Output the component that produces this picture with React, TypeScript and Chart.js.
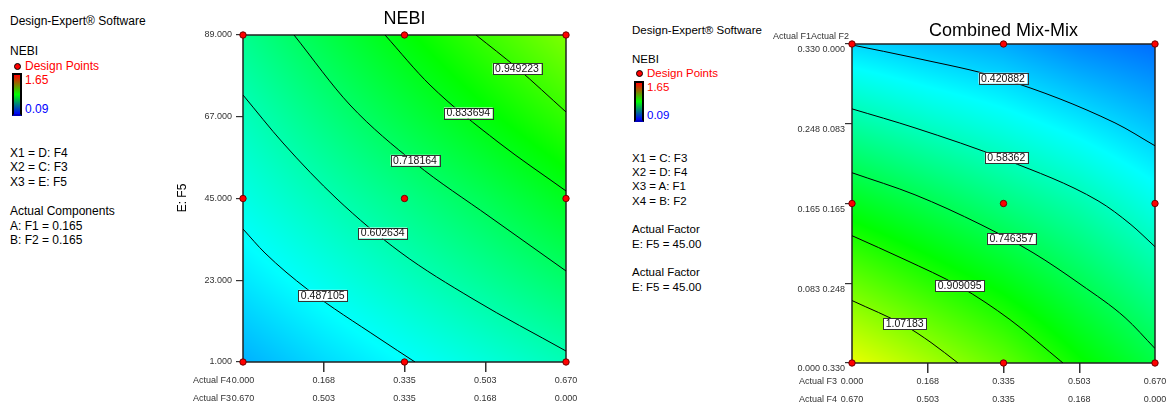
import React, { useEffect, useRef } from "react";
import { Chart, registerables } from "chart.js";

Chart.register(...registerables);

const FONT = "'Liberation Sans', Arial, Helvetica, sans-serif";

/* ---------------- colour scale (Design-Expert) ---------------- */
const colorMin = 0.09;
const colorMax = 1.65;
const colorStops = [
  [0, 0, 255],
  [0, 255, 255],
  [0, 255, 0],
  [255, 255, 0],
  [255, 0, 0],
];

/* ---------------- NEBI plot (left) ---------------- */
const nebiTitle = "NEBI";
const nebiXTicks = [0, 0.1675, 0.335, 0.5025, 0.67];
const nebiXLabelsF4 = ["0.000", "0.168", "0.335", "0.503", "0.670"];
const nebiXLabelsF3 = ["0.670", "0.503", "0.335", "0.168", "0.000"];
const nebiYTicks = [1, 23, 45, 67, 89];
const nebiYLabels = ["1.000", "23.000", "45.000", "67.000", "89.000"];
const nebiDesignX = [0, 0.335, 0.67, 0, 0.335, 0.67, 0, 0.335, 0.67];
const nebiDesignY = [1, 1, 1, 45, 45, 45, 89, 89, 89];
const nebiSurfaceX = [0, 0.1675, 0.335, 0.5025, 0.67];
const nebiSurfaceY = [1, 23, 45, 67, 89];
const nebiSurface = [
  [0.36, 0.424, 0.48, 0.535, 0.591],
  [0.444, 0.509, 0.574, 0.64, 0.708],
  [0.518, 0.591, 0.664, 0.74, 0.824],
  [0.582, 0.674, 0.765, 0.855, 0.947],
  [0.653, 0.756, 0.858, 0.961, 1.063],
];
const nebiContour1 = [[0, 36.79], [0.0456, 30.33], [0.1328, 20.65], [0.2842, 7.19], [0.3568, 1]];
const nebiContour2 = [[0, 72.85], [0.083, 59.94], [0.195, 44.86], [0.3257, 30.6], [0.4771, 17.95], [0.67, 3.96]];
const nebiContour3 = [[0.1058, 89], [0.222, 70.16], [0.3568, 54.53], [0.5124, 40.02], [0.67, 25.49]];
const nebiContour4 = [[0.2946, 89], [0.3879, 75.54], [0.529, 60.2], [0.67, 47.02]];
const nebiContour5 = [[0.4833, 89], [0.5684, 80.12], [0.67, 68.28]];
const nebiContourText = ["0.487105", "0.602634", "0.718164", "0.833694", "0.949223"];
const nebiLabelX = [0.1653, 0.2898, 0.3568, 0.4673, 0.5684];
const nebiLabelY = [18.95, 35.7, 55.28, 68.0, 79.93];

/* ---------------- Combined Mix-Mix plot (right) ---------------- */
const mixTitle = "Combined Mix-Mix";
const mixXTicks = [0, 0.1675, 0.335, 0.5025, 0.67];
const mixXLabelsF3 = ["0.000", "0.168", "0.335", "0.503", "0.670"];
const mixXLabelsF4 = ["0.670", "0.503", "0.335", "0.168", "0.000"];
const mixYTicks = [0, 0.0825, 0.165, 0.2475, 0.33];
const mixYLabelsF1 = ["0.000", "0.083", "0.165", "0.248", "0.330"];
const mixYLabelsF2 = ["0.330", "0.248", "0.165", "0.083", "0.000"];
const mixDesignX = [0, 0.335, 0.67, 0, 0.335, 0.67, 0, 0.335, 0.67];
const mixDesignY = [0, 0, 0, 0.165, 0.165, 0.165, 0.33, 0.33, 0.33];
const mixSurfaceX = [0, 0.1675, 0.335, 0.5025, 0.67];
const mixSurfaceY = [0, 0.0825, 0.165, 0.2475, 0.33];
const mixSurface = [
  [1.228, 1.126, 1.018, 0.882, 0.766],
  [1.028, 0.935, 0.847, 0.744, 0.641],
  [0.826, 0.753, 0.677, 0.605, 0.514],
  [0.622, 0.564, 0.512, 0.451, 0.385],
  [0.421, 0.382, 0.35, 0.294, 0.257],
];
const mixContour1 = [[0, 0.329], [0.1393, 0.3156], [0.3339, 0.2939], [0.5815, 0.2484], [0.67, 0.2247]];
const mixContour2 = [[0, 0.2629], [0.1393, 0.2432], [0.3405, 0.2102], [0.544, 0.1678], [0.6169, 0.1431], [0.67, 0.1203]];
const mixContour3 = [[0, 0.1968], [0.1393, 0.174], [0.2852, 0.1431], [0.4002, 0.1141], [0.5064, 0.081], [0.6037, 0.047], [0.67, 0.015]];
const mixContour4 = [[0, 0.1317], [0.1172, 0.1069], [0.2388, 0.079], [0.3493, 0.0449], [0.4665, 0]];
const mixContour5 = [[0, 0.0646], [0.1172, 0.0387], [0.1747, 0.0212], [0.2344, 0]];
const mixContourText = ["0.420882", "0.58362", "0.746357", "0.909095", "1.07183"];
const mixLabelX = [0.3339, 0.3412, 0.3523, 0.2381, 0.1165];
const mixLabelY = [0.2946, 0.2123, 0.1286, 0.08, 0.0405];

/* ---------------- side panels text ---------------- */
const panel1Lines = [
  { t: "Design-Expert® Software", cy: 21 },
  { t: "NEBI", cy: 51 },
  { t: "X1 = D: F4", cy: 153 },
  { t: "X2 = C: F3", cy: 167 },
  { t: "X3 = E: F5", cy: 181.5 },
  { t: "Actual Components", cy: 211 },
  { t: "A: F1 = 0.165", cy: 226 },
  { t: "B: F2 = 0.165", cy: 240 },
];
const panel2Lines = [
  { t: "Design-Expert® Software", cy: 30 },
  { t: "NEBI", cy: 59 },
  { t: "X1 = C: F3", cy: 157.5 },
  { t: "X2 = D: F4", cy: 171.5 },
  { t: "X3 = A: F1", cy: 186 },
  { t: "X4 = B: F2", cy: 200.5 },
  { t: "Actual Factor", cy: 229 },
  { t: "E: F5 = 45.00", cy: 243.5 },
  { t: "Actual Factor", cy: 271.5 },
  { t: "E: F5 = 45.00", cy: 286.5 },
];

/* ---------------- helpers ---------------- */
function colorFor(v: number): [number, number, number] {
  let t = (v - colorMin) / (colorMax - colorMin);
  t = Math.max(0, Math.min(1, t));
  const seg = t * (colorStops.length - 1);
  const i = Math.min(colorStops.length - 2, Math.floor(seg));
  const f = seg - i;
  const a = colorStops[i];
  const b = colorStops[i + 1];
  return [a[0] + (b[0] - a[0]) * f, a[1] + (b[1] - a[1]) * f, a[2] + (b[2] - a[2]) * f];
}

function locate(arr: number[], v: number): [number, number] {
  if (v <= arr[0]) return [0, 0];
  for (let i = 0; i < arr.length - 1; i++) {
    if (v <= arr[i + 1]) return [i, (v - arr[i]) / (arr[i + 1] - arr[i])];
  }
  return [arr.length - 2, 1];
}

function surfaceAt(sx: number[], sy: number[], grid: number[][], x: number, y: number) {
  const [i, fx] = locate(sx, x);
  const [j, fy] = locate(sy, y);
  const v00 = grid[j][i];
  const v10 = grid[j][i + 1];
  const v01 = grid[j + 1][i];
  const v11 = grid[j + 1][i + 1];
  return v00 * (1 - fx) * (1 - fy) + v10 * fx * (1 - fy) + v01 * (1 - fx) * fy + v11 * fx * fy;
}

const toPts = (arr: number[][]) => arr.map((p) => ({ x: p[0], y: p[1] }));

type PlotCfg = {
  id: string;
  canvasLeft: number;
  width: number;
  height: number;
  areaTop: number;
  padRight: number;
  yAxisWidth: number;
  xAxisHeight: number;
  xMin: number;
  xMax: number;
  yMin: number;
  yMax: number;
  xTicks: number[];
  xLabelsA: string[];
  xLabelsB: string[];
  xCaptionA: string;
  xCaptionB: string;
  xCaptionRight: number;
  yTicks: number[];
  yLabel: (i: number) => string;
  yTickLength: number;
  yPadding: number;
  yLabelOffset: number;
  designX: number[];
  designY: number[];
  sx: number[];
  sy: number[];
  surface: number[][];
  contours: number[][][];
  labelText: string[];
  labelX: number[];
  labelY: number[];
  title: string;
  titleY: number;
  extra: (ctx: CanvasRenderingContext2D) => void;
};

function makePlugin(cfg: PlotCfg) {
  return {
    id: "decor_" + cfg.id,
    beforeDatasetsDraw(chart: any) {
      const { ctx, chartArea: a, scales } = chart;
      const xs = scales.x;
      const ys = scales.y;
      const w = Math.round(a.right - a.left);
      const h = Math.round(a.bottom - a.top);
      const off = document.createElement("canvas");
      off.width = w;
      off.height = h;
      const octx = off.getContext("2d")!;
      const img = octx.createImageData(w, h);
      for (let j = 0; j < h; j++) {
        const yv = ys.getValueForPixel(a.top + j + 0.5);
        for (let i = 0; i < w; i++) {
          const xv = xs.getValueForPixel(a.left + i + 0.5);
          const c = colorFor(surfaceAt(cfg.sx, cfg.sy, cfg.surface, xv, yv));
          const k = (j * w + i) * 4;
          img.data[k] = c[0];
          img.data[k + 1] = c[1];
          img.data[k + 2] = c[2];
          img.data[k + 3] = 255;
        }
      }
      octx.putImageData(img, 0, 0);
      ctx.save();
      ctx.drawImage(off, a.left, a.top);
      ctx.strokeStyle = "#222";
      ctx.lineWidth = 1.5;
      ctx.strokeRect(a.left, a.top, a.right - a.left, a.bottom - a.top);
      ctx.restore();
    },
    afterDatasetsDraw(chart: any) {
      const { ctx, scales } = chart;
      ctx.save();
      ctx.font = `10.5px ${FONT}`;
      ctx.textAlign = "center";
      ctx.textBaseline = "middle";
      cfg.labelText.forEach((txt, i) => {
        const px = scales.x.getPixelForValue(cfg.labelX[i]);
        const py = scales.y.getPixelForValue(cfg.labelY[i]);
        const tw = ctx.measureText(txt).width + 5;
        const th = 11;
        ctx.fillStyle = "#fff";
        ctx.fillRect(px - tw / 2, py - th / 2, tw, th);
        ctx.strokeStyle = "#333";
        ctx.lineWidth = 1;
        ctx.strokeRect(Math.round(px - tw / 2) + 0.5, Math.round(py - th / 2) + 0.5, Math.round(tw), th);
        ctx.fillStyle = "#111";
        ctx.fillText(txt, px, py + 0.5);
      });
      ctx.restore();
    },
    afterDraw(chart: any) {
      const { ctx, chartArea: a, scales } = chart;
      ctx.save();
      ctx.fillStyle = "#000";
      ctx.font = `18px ${FONT}`;
      ctx.textAlign = "center";
      ctx.textBaseline = "middle";
      ctx.fillText(cfg.title, (a.left + a.right) / 2, cfg.titleY);
      ctx.font = `9px ${FONT}`;
      ctx.fillStyle = "#333";
      ctx.textAlign = "right";
      const x0 = scales.x.getPixelForValue(cfg.xTicks[0]);
      ctx.fillText(cfg.xCaptionA, x0 - cfg.xCaptionRight, a.bottom + 19);
      ctx.fillText(cfg.xCaptionB, x0 - cfg.xCaptionRight, a.bottom + 37);
      cfg.extra(ctx);
      ctx.restore();
    },
  };
}

function ContourPlot({ cfg }: { cfg: PlotCfg }) {
  const ref = useRef<HTMLCanvasElement>(null);
  useEffect(() => {
    const canvas = ref.current!;
    const datasets: any[] = [
      {
        label: "Design Points",
        data: cfg.designX.map((x, i) => ({ x, y: cfg.designY[i] })),
        pointRadius: 3.2,
        pointBackgroundColor: "#ff0000",
        pointBorderColor: "#700000",
        pointBorderWidth: 1,
        showLine: false,
        order: 0,
        clip: 6,
      },
      ...cfg.contours.map((c, i) => ({
        label: cfg.labelText[i],
        data: toPts(c),
        showLine: true,
        borderColor: "#000",
        borderWidth: 1,
        pointRadius: 0,
        cubicInterpolationMode: "monotone",
        fill: false,
        order: 1,
      })),
    ];
    const chart = new Chart(canvas, {
      type: "scatter",
      data: { datasets },
      options: {
        animation: false,
        responsive: false,
        devicePixelRatio: 1,
        events: [],
        layout: { padding: { left: 0, top: cfg.areaTop, right: cfg.padRight, bottom: 0 } },
        plugins: {
          legend: { display: false },
          tooltip: { enabled: false },
          title: { display: false },
        },
        scales: {
          x: {
            type: "linear",
            min: cfg.xMin,
            max: cfg.xMax,
            afterBuildTicks: (s: any) => {
              s.ticks = cfg.xTicks.map((v) => ({ value: v }));
            },
            afterFit: (s: any) => {
              s.height = cfg.xAxisHeight;
            },
            ticks: {
              autoSkip: false,
              maxRotation: 0,
              minRotation: 0,
              padding: 0,
              color: "#333",
              font: { family: FONT, size: 9, lineHeight: 2 },
              callback: (_v: any, i: number) => [cfg.xLabelsA[i], cfg.xLabelsB[i]],
            },
            grid: {
              drawOnChartArea: false,
              drawTicks: true,
              tickLength: 10,
              lineWidth: 1.5,
              color: (c: any) => (c.index === 0 || c.index === cfg.xTicks.length - 1 ? "rgba(0,0,0,0)" : "#333"),
            },
            border: { display: false },
          },
          y: {
            type: "linear",
            min: cfg.yMin,
            max: cfg.yMax,
            afterBuildTicks: (s: any) => {
              s.ticks = cfg.yTicks.map((v) => ({ value: v }));
            },
            afterFit: (s: any) => {
              s.width = cfg.yAxisWidth;
            },
            ticks: {
              autoSkip: false,
              padding: cfg.yPadding,
              labelOffset: cfg.yLabelOffset,
              color: "#333",
              font: { family: FONT, size: 9 },
              callback: (_v: any, i: number) => cfg.yLabel(i),
            },
            grid: {
              drawOnChartArea: false,
              drawTicks: true,
              tickLength: cfg.yTickLength,
              lineWidth: 1.2,
              color: "#333",
            },
            border: { display: false },
          },
        },
      },
      plugins: [makePlugin(cfg)],
    } as any);
    return () => chart.destroy();
  }, []);
  return (
    <canvas
      ref={ref}
      width={cfg.width}
      height={cfg.height}
      style={{ position: "absolute", left: cfg.canvasLeft, top: 0, width: cfg.width, height: cfg.height }}
    />
  );
}

const nebiCfg: PlotCfg = {
  id: "nebi",
  canvasLeft: 0,
  width: 610,
  height: 403,
  areaTop: 35,
  padRight: 44,
  yAxisWidth: 243,
  xAxisHeight: 41,
  xMin: 0,
  xMax: 0.67,
  yMin: 1,
  yMax: 89,
  xTicks: nebiXTicks,
  xLabelsA: nebiXLabelsF4,
  xLabelsB: nebiXLabelsF3,
  xCaptionA: "Actual F4",
  xCaptionB: "Actual F3",
  xCaptionRight: 12,
  yTicks: nebiYTicks,
  yLabel: (i) => nebiYLabels[i],
  yTickLength: 7,
  yPadding: 4,
  yLabelOffset: 0,
  designX: nebiDesignX,
  designY: nebiDesignY,
  sx: nebiSurfaceX,
  sy: nebiSurfaceY,
  surface: nebiSurface,
  contours: [nebiContour1, nebiContour2, nebiContour3, nebiContour4, nebiContour5],
  labelText: nebiContourText,
  labelX: nebiLabelX,
  labelY: nebiLabelY,
  title: nebiTitle,
  titleY: 19,
  extra: (ctx) => {
    ctx.save();
    ctx.font = `12px ${FONT}`;
    ctx.fillStyle = "#000";
    ctx.textAlign = "center";
    ctx.textBaseline = "middle";
    ctx.translate(183, 198);
    ctx.rotate(-Math.PI / 2);
    ctx.fillText("E: F5", 0, 0);
    ctx.restore();
  },
};

const mixCfg: PlotCfg = {
  id: "mix",
  canvasLeft: 610,
  width: 564,
  height: 403,
  areaTop: 44,
  padRight: 19,
  yAxisWidth: 242,
  xAxisHeight: 40,
  xMin: 0,
  xMax: 0.67,
  yMin: 0,
  yMax: 0.33,
  xTicks: mixXTicks,
  xLabelsA: mixXLabelsF3,
  xLabelsB: mixXLabelsF4,
  xCaptionA: "Actual F3",
  xCaptionB: "Actual F4",
  xCaptionRight: 15,
  yTicks: mixYTicks,
  yLabel: (i) => mixYLabelsF1[i] + " " + mixYLabelsF2[i],
  yTickLength: 7,
  yPadding: 0,
  yLabelOffset: 6,
  designX: mixDesignX,
  designY: mixDesignY,
  sx: mixSurfaceX,
  sy: mixSurfaceY,
  surface: mixSurface,
  contours: [mixContour1, mixContour2, mixContour3, mixContour4, mixContour5],
  labelText: mixContourText,
  labelX: mixLabelX,
  labelY: mixLabelY,
  title: mixTitle,
  titleY: 31.5,
  extra: (ctx) => {
    ctx.save();
    ctx.font = `9px ${FONT}`;
    ctx.fillStyle = "#333";
    ctx.textAlign = "right";
    ctx.textBaseline = "middle";
    ctx.fillText("Actual F1Actual F2", 239, 37);
    ctx.restore();
  },
};

function Line({ x, cy, size, color, children }: any) {
  const lh = Math.round(size * 1.2);
  return (
    <div
      style={{
        position: "absolute",
        left: x,
        top: cy - lh / 2,
        fontSize: size,
        lineHeight: `${lh}px`,
        color: color || "#000",
        whiteSpace: "nowrap",
        fontFamily: FONT,
      }}
    >
      {children}
    </div>
  );
}

function Panel({ x, lines, size, dotY, barTop, barBottom, barX, barW, hiY, loY, labX }: any) {
  return (
    <>
      {lines.map((l: any, i: number) => (
        <Line key={i} x={x} cy={l.cy} size={size}>
          {l.t}
        </Line>
      ))}
      <div
        style={{
          position: "absolute",
          left: barX + 1.5,
          top: dotY - 3,
          width: 5,
          height: 5,
          borderRadius: "50%",
          background: "#ff0000",
          border: "1px solid #000",
        }}
      />
      <Line x={labX} cy={dotY} size={size} color="#ff0000">
        Design Points
      </Line>
      <div
        style={{
          position: "absolute",
          left: barX,
          top: barTop,
          width: barW - 4,
          height: barBottom - barTop - 4,
          border: "2px solid #000",
          borderBottomColor: "#0000c0",
          background: "linear-gradient(#ff0000, #00ff00, #0000ff)",
        }}
      />
      <Line x={labX} cy={hiY} size={size} color="#ff0000">
        1.65
      </Line>
      <Line x={labX} cy={loY} size={size} color="#0000ff">
        0.09
      </Line>
    </>
  );
}

export default function App() {
  return (
    <div
      style={{
        position: "fixed",
        left: 0,
        top: 0,
        width: 1174,
        height: 403,
        background: "#fff",
        overflow: "hidden",
      }}
    >
      <Panel
        x={10}
        lines={panel1Lines}
        size={12}
        dotY={65.5}
        barX={12}
        barW={10}
        barTop={73}
        barBottom={116}
        hiY={80}
        loY={108.5}
        labX={25}
      />
      <Panel
        x={632}
        lines={panel2Lines}
        size={11.5}
        dotY={72.5}
        barX={634}
        barW={10}
        barTop={81}
        barBottom={122}
        hiY={86.5}
        loY={115}
        labX={647}
      />
      <ContourPlot cfg={nebiCfg} />
      <ContourPlot cfg={mixCfg} />
    </div>
  );
}
